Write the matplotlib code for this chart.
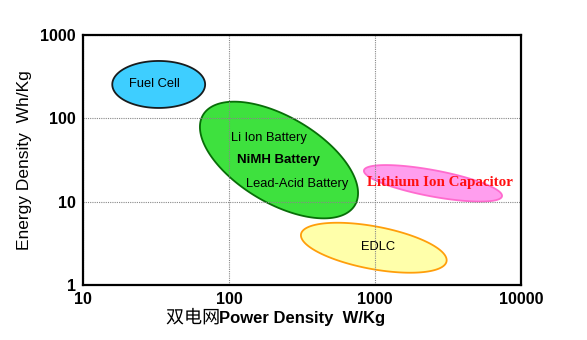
import numpy as np
import matplotlib
matplotlib.use('Agg')
import matplotlib.pyplot as plt
import matplotlib.patheffects as pe

plt.rcParams['font.family'] = ['Liberation Sans', 'DejaVu Sans']

# ellipse regions: centre (W/kg, Wh/kg), semi-axes in decades of the x axis, tilt in degrees
names = ['Fuel Cell', 'Batteries', 'Lithium Ion Capacitor', 'EDLC']
cx = [33, 220, 2495, 981]
cy = [255, 31.6, 16.6, 2.8]
semi_a = [0.318, 0.605, 0.481, 0.507]
semi_b = [0.161, 0.295, 0.090, 0.146]
tilt = [0, -30.7, -10.6, -10.6]
fills = ['#33ccff', '#33e033', '#ff99ee', '#ffffa6']
edges = ['#111111', '#006600', '#ff66cc', '#ff9900']

# labels inside the regions
lab_text = ['Fuel Cell', 'Li Ion Battery', 'NiMH Battery', 'Lead-Acid Battery',
            'Lithium Ion Capacitor', 'EDLC']
lab_x = [31, 188, 220, 292, 2790, 1050]
lab_y = [255, 58, 31.6, 16.3, 17.2, 2.86]

xticks = [10, 100, 1000, 10000]
yticks = [1, 10, 100, 1000]

W, H = 587, 340
fig = plt.figure(figsize=(W/100, H/100), dpi=100)
pos = [83/W, 55/H, 438/W, 250/H]
ax = fig.add_axes(pos)
ax.set_xscale('log')
ax.set_yscale('log')
ax.set_xlim(10, 10000)
ax.set_ylim(1, 1000)

# screen ratio between one x decade and one y decade
k = (W*pos[2]/3) / (H*pos[3]/3)

def ellipse(x0, y0, a, b, ang, n=300):
    t = np.linspace(0, 2*np.pi, n)
    th = np.radians(ang)
    dx = a*np.cos(t)*np.cos(th) - b*np.sin(t)*np.sin(th)
    dy = a*np.cos(t)*np.sin(th) + b*np.sin(t)*np.cos(th)
    return 10**(np.log10(x0)+dx), 10**(np.log10(y0)+dy*k)

for i in range(len(names)):
    ex, ey = ellipse(cx[i], cy[i], semi_a[i], semi_b[i], tilt[i])
    ax.fill(ex, ey, facecolor=fills[i], edgecolor=edges[i], lw=1.3, alpha=0.95, zorder=2)

ax.set_xticks(xticks)
ax.set_xticklabels([str(v) for v in xticks])
ax.set_yticks(yticks)
ax.set_yticklabels([str(v) for v in yticks])
ax.minorticks_off()
ax.tick_params(length=0, labelsize=11.5, pad=5)
for lb in ax.get_xticklabels() + ax.get_yticklabels():
    lb.set_fontweight('bold')
ax.grid(True, color='#888888', lw=0.8, ls=(0, (1, 1)), zorder=3)
ax.set_axisbelow(False)
for s in ax.spines.values():
    s.set_linewidth(1.6)
    s.set_zorder(5)

for i, t in enumerate(lab_text):
    if t == 'Lithium Ion Capacitor':
        ax.text(lab_x[i], lab_y[i], t, color='#ff1010', fontsize=10.8, fontweight='bold',
                family='Liberation Serif', ha='center', va='center', zorder=4)
    elif t == 'NiMH Battery':
        ax.text(lab_x[i], lab_y[i], t, fontsize=9.5, fontweight='bold',
                ha='center', va='center', zorder=4)
    else:
        ax.text(lab_x[i], lab_y[i], t, fontsize=9.3, ha='center', va='center', zorder=4)

fig.text(25/W, 1-160/H, 'Energy Density  Wh/Kg', rotation=90, fontsize=12.5,
         ha='center', va='center')
fig.text(302/W, 1-318/H, 'Power Density  W/Kg', fontsize=12, fontweight='bold',
         ha='center', va='center')
fig.text(220/W, 1-318/H, '双电网', fontsize=13, family=['Noto Sans CJK SC', 'DejaVu Sans'],
         ha='right', va='center',
         path_effects=[pe.withStroke(linewidth=2, foreground='white')])

fig.savefig('out.png', dpi=100)
